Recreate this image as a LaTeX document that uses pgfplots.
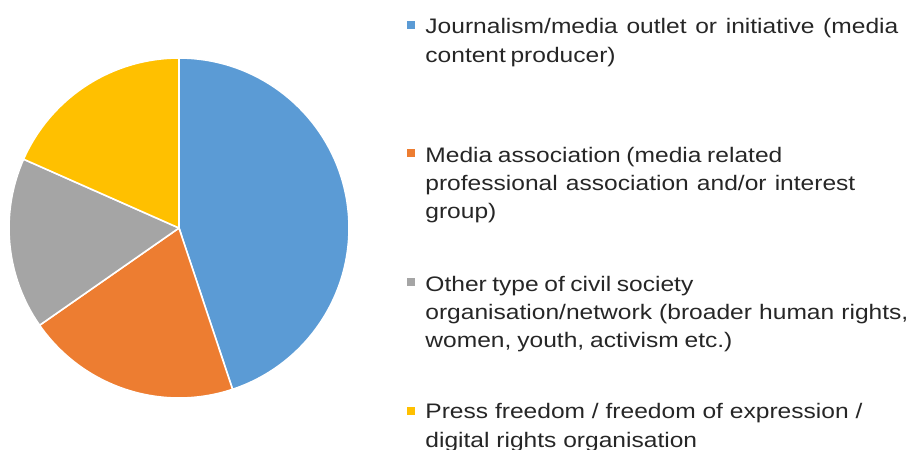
\documentclass[border=0pt]{standalone}
\usepackage{pgfplots}
\usepackage{pgfplotstable}
\pgfplotsset{compat=1.18}
\usepackage{fontspec}
\setmainfont{Liberation Sans}[FakeStretch=1.17]
\definecolor{cBlue}{HTML}{5B9BD5}
\definecolor{cOrange}{HTML}{ED7D31}
\definecolor{cGray}{HTML}{A5A5A5}
\definecolor{cYellow}{HTML}{FFC000}
\definecolor{txt}{HTML}{262626}
\pgfplotstableread{
label value
Journalism 22
MediaAssoc 10
OtherCSO 8
PressFreedom 9
}\piedata
\newcommand{\legline}[3]{\node[anchor=base west,inner sep=0pt,text=txt] at (425,#1) {\makebox[#2pt][s]{#3}};}
\begin{document}
\fontsize{10.5pt}{13pt}\selectfont
\begin{tikzpicture}[x=0.5pt,y=-0.5pt]
\useasboundingbox (0,0) rectangle (912,450);
\coordinate (pc) at (179,228);
\pgfplotstablegetelem{0}{value}\of\piedata\pgfmathsetmacro\vA{\pgfplotsretval}
\pgfplotstablegetelem{1}{value}\of\piedata\pgfmathsetmacro\vB{\pgfplotsretval}
\pgfplotstablegetelem{2}{value}\of\piedata\pgfmathsetmacro\vC{\pgfplotsretval}
\pgfplotstablegetelem{3}{value}\of\piedata\pgfmathsetmacro\vD{\pgfplotsretval}
\pgfmathsetmacro\tot{\vA+\vB+\vC+\vD}
\pgfmathsetmacro\aA{90}
\pgfmathsetmacro\aB{\aA-360*\vA/\tot}
\pgfmathsetmacro\aC{\aB-360*\vB/\tot}
\pgfmathsetmacro\aD{\aC-360*\vC/\tot}
\pgfmathsetmacro\aE{\aD-360*\vD/\tot}
\begin{axis}[
  at={(pc)}, anchor=center,
  x=85pt, y=85pt,
  xmin=-1, xmax=1, ymin=-1, ymax=1,
  hide axis, clip=false,
]
\fill[cBlue, draw=white, line width=0.8pt, line join=round] (axis cs:0,0) -- (axis cs:{cos(\aA)},{sin(\aA)}) arc[start angle=\aA, end angle=\aB, radius=85pt] -- cycle;
\fill[cOrange, draw=white, line width=0.8pt, line join=round] (axis cs:0,0) -- (axis cs:{cos(\aB)},{sin(\aB)}) arc[start angle=\aB, end angle=\aC, radius=85pt] -- cycle;
\fill[cGray, draw=white, line width=0.8pt, line join=round] (axis cs:0,0) -- (axis cs:{cos(\aC)},{sin(\aC)}) arc[start angle=\aC, end angle=\aD, radius=85pt] -- cycle;
\fill[cYellow, draw=white, line width=0.8pt, line join=round] (axis cs:0,0) -- (axis cs:{cos(\aD)},{sin(\aD)}) arc[start angle=\aD, end angle=\aE, radius=85pt] -- cycle;
\end{axis}
% legend
\fill[cBlue] (407,21) rectangle (415,29);
\legline{33}{236.5}{Journalism/media outlet or initiative (media}
\legline{62}{93.5}{content producer)}
\fill[cOrange] (407,149) rectangle (415,157);
\legline{162}{178.5}{Media association (media related}
\legline{190}{215}{professional association and/or interest}
\node[anchor=base west,inner sep=0pt,text=txt] at (425,218) {group)};
\fill[cGray] (407,278) rectangle (415,286);
\legline{291}{134}{Other type of civil society}
\legline{319}{241.5}{organisation/network (broader human rights,}
\legline{347}{153.5}{women, youth, activism etc.)}
\fill[cYellow] (407,407) rectangle (415,415);
\legline{418}{218.5}{Press freedom / freedom of expression /}
\node[anchor=base west,inner sep=0pt,text=txt] at (425,447) {digital rights organisation};
\end{tikzpicture}
\end{document}
